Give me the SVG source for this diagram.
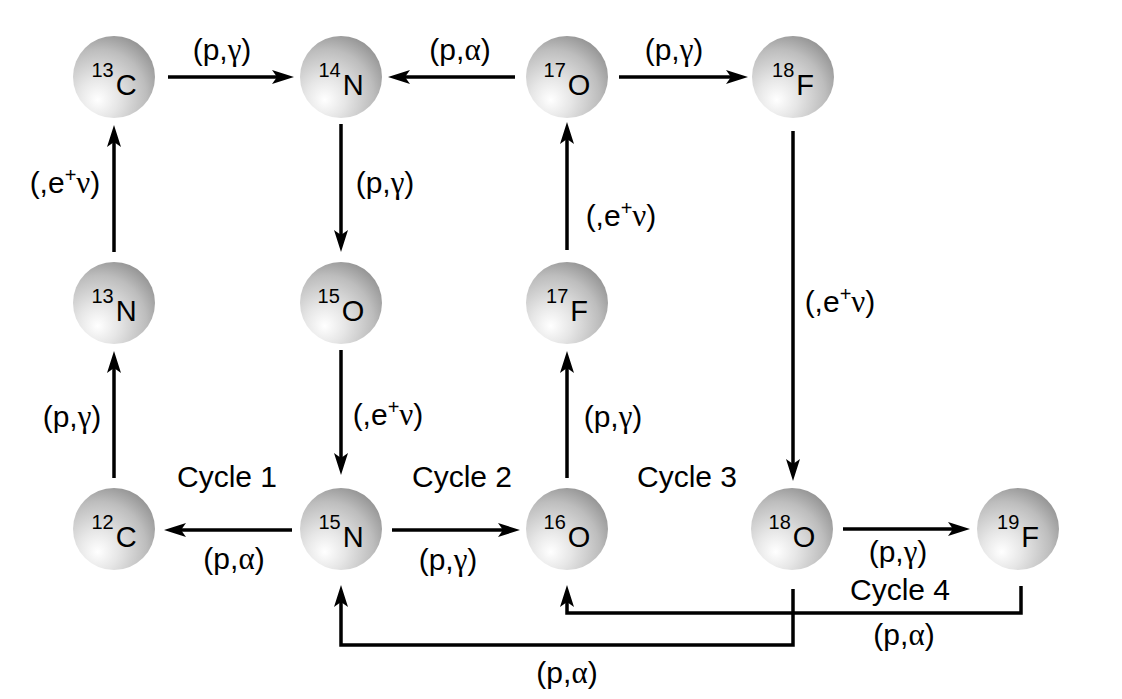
<svg xmlns="http://www.w3.org/2000/svg" width="1122" height="699" viewBox="0 0 1122 699">
<defs>
<radialGradient id="sph" cx="0.33" cy="0.72" r="0.82" fx="0.3" fy="0.78">
<stop offset="0" stop-color="#ffffff"/>
<stop offset="0.3" stop-color="#e6e6e6"/>
<stop offset="0.7" stop-color="#bdbdbd"/>
<stop offset="1" stop-color="#8e8e8e"/>
</radialGradient>
<marker id="ah" markerUnits="userSpaceOnUse" viewBox="0 -8 24 16" markerWidth="24" markerHeight="16" refX="10" refY="0" orient="auto">
<path d="M22,0 L0,-7 L5,0 L0,7 Z" fill="#000"/>
</marker>
</defs>
<style>
.n circle{fill:url(#sph);}
.n text{font-family:"Liberation Sans",Arial,sans-serif;font-size:29px;fill:#000;text-anchor:middle;}
.c line,.c path{stroke:#000;stroke-width:3.5;fill:none;}
.lbl{font-family:"Liberation Sans",Arial,sans-serif;font-size:30px;fill:#000;text-anchor:middle;}
</style>
<rect width="1122" height="699" fill="#fff"/>
<g id="connectors" class="c">
<line x1="168" y1="77" x2="282" y2="77" marker-end="url(#ah)"/>
<line x1="515" y1="77" x2="400" y2="77" marker-end="url(#ah)"/>
<line x1="619" y1="77" x2="736" y2="77" marker-end="url(#ah)"/>
<line x1="341" y1="124" x2="341" y2="240" marker-end="url(#ah)"/>
<line x1="114" y1="252" x2="114" y2="137" marker-end="url(#ah)"/>
<line x1="567" y1="250" x2="567" y2="134" marker-end="url(#ah)"/>
<line x1="793" y1="131" x2="793" y2="469" marker-end="url(#ah)"/>
<line x1="114" y1="478" x2="114" y2="363" marker-end="url(#ah)"/>
<line x1="341" y1="350" x2="341" y2="463" marker-end="url(#ah)"/>
<line x1="567" y1="478" x2="567" y2="363" marker-end="url(#ah)"/>
<line x1="292" y1="530" x2="176" y2="530" marker-end="url(#ah)"/>
<line x1="392" y1="530" x2="508" y2="530" marker-end="url(#ah)"/>
<line x1="843" y1="529" x2="958" y2="529" marker-end="url(#ah)"/>
<path d="M793,589 L793,645 L341,645 L341,597" marker-end="url(#ah)"/>
<path d="M1021,586 L1021,613 L567,613 L567,597" marker-end="url(#ah)"/>
</g>
<g id="n13C" class="n"><circle cx="114" cy="77" r="41"/><text x="114" y="95"><tspan font-size="20" dy="-18">13</tspan><tspan dx="2" dy="18">C</tspan></text></g>
<g id="n14N" class="n"><circle cx="341" cy="77" r="41"/><text x="341" y="95"><tspan font-size="20" dy="-18">14</tspan><tspan dx="2" dy="18">N</tspan></text></g>
<g id="n17O" class="n"><circle cx="567" cy="77" r="41"/><text x="567" y="95"><tspan font-size="20" dy="-18">17</tspan><tspan dx="2" dy="18">O</tspan></text></g>
<g id="n18F" class="n"><circle cx="793" cy="77" r="41"/><text x="793" y="95"><tspan font-size="20" dy="-18">18</tspan><tspan dx="2" dy="18">F</tspan></text></g>
<g id="n13N" class="n"><circle cx="114" cy="303" r="41"/><text x="114" y="321"><tspan font-size="20" dy="-18">13</tspan><tspan dx="2" dy="18">N</tspan></text></g>
<g id="n15O" class="n"><circle cx="341" cy="303" r="41"/><text x="341" y="321"><tspan font-size="20" dy="-18">15</tspan><tspan dx="2" dy="18">O</tspan></text></g>
<g id="n17F" class="n"><circle cx="567" cy="303" r="41"/><text x="567" y="321"><tspan font-size="20" dy="-18">17</tspan><tspan dx="2" dy="18">F</tspan></text></g>
<g id="n12C" class="n"><circle cx="114" cy="529" r="41"/><text x="114" y="547"><tspan font-size="20" dy="-18">12</tspan><tspan dx="2" dy="18">C</tspan></text></g>
<g id="n15N" class="n"><circle cx="341" cy="529" r="41"/><text x="341" y="547"><tspan font-size="20" dy="-18">15</tspan><tspan dx="2" dy="18">N</tspan></text></g>
<g id="n16O" class="n"><circle cx="567" cy="529" r="41"/><text x="567" y="547"><tspan font-size="20" dy="-18">16</tspan><tspan dx="2" dy="18">O</tspan></text></g>
<g id="n18O" class="n"><circle cx="792" cy="529" r="41"/><text x="792" y="547"><tspan font-size="20" dy="-18">18</tspan><tspan dx="2" dy="18">O</tspan></text></g>
<g id="n19F" class="n"><circle cx="1018" cy="529" r="41"/><text x="1018" y="547"><tspan font-size="20" dy="-18">19</tspan><tspan dx="2" dy="18">F</tspan></text></g>
<g id="labels">
<text class="lbl" x="222" y="60">(p,<tspan font-family="Liberation Serif, serif" font-size="31">γ</tspan>)</text>
<text class="lbl" x="460" y="60">(p,<tspan font-family="Liberation Serif, serif" font-size="31">α</tspan>)</text>
<text class="lbl" x="674" y="60">(p,<tspan font-family="Liberation Serif, serif" font-size="31">γ</tspan>)</text>
<text class="lbl" x="65" y="193">(,e<tspan font-size="20" dy="-11">+</tspan><tspan font-family="Liberation Serif, serif" font-size="31" dy="11">ν</tspan>)</text>
<text class="lbl" x="385" y="193">(p,<tspan font-family="Liberation Serif, serif" font-size="31">γ</tspan>)</text>
<text class="lbl" x="621" y="226">(,e<tspan font-size="20" dy="-11">+</tspan><tspan font-family="Liberation Serif, serif" font-size="31" dy="11">ν</tspan>)</text>
<text class="lbl" x="840" y="312">(,e<tspan font-size="20" dy="-11">+</tspan><tspan font-family="Liberation Serif, serif" font-size="31" dy="11">ν</tspan>)</text>
<text class="lbl" x="72" y="427">(p,<tspan font-family="Liberation Serif, serif" font-size="31">γ</tspan>)</text>
<text class="lbl" x="388" y="425">(,e<tspan font-size="20" dy="-11">+</tspan><tspan font-family="Liberation Serif, serif" font-size="31" dy="11">ν</tspan>)</text>
<text class="lbl" x="613" y="427">(p,<tspan font-family="Liberation Serif, serif" font-size="31">γ</tspan>)</text>
<text class="lbl" x="227" y="487">Cycle 1</text>
<text class="lbl" x="462" y="487">Cycle 2</text>
<text class="lbl" x="687" y="487">Cycle 3</text>
<text class="lbl" x="234" y="569">(p,<tspan font-family="Liberation Serif, serif" font-size="31">α</tspan>)</text>
<text class="lbl" x="448" y="570">(p,<tspan font-family="Liberation Serif, serif" font-size="31">γ</tspan>)</text>
<text class="lbl" x="898" y="562">(p,<tspan font-family="Liberation Serif, serif" font-size="31">γ</tspan>)</text>
<text class="lbl" x="900" y="600">Cycle 4</text>
<text class="lbl" x="904" y="645">(p,<tspan font-family="Liberation Serif, serif" font-size="31">α</tspan>)</text>
<text class="lbl" x="567" y="683">(p,<tspan font-family="Liberation Serif, serif" font-size="31">α</tspan>)</text>
</g>
</svg>
